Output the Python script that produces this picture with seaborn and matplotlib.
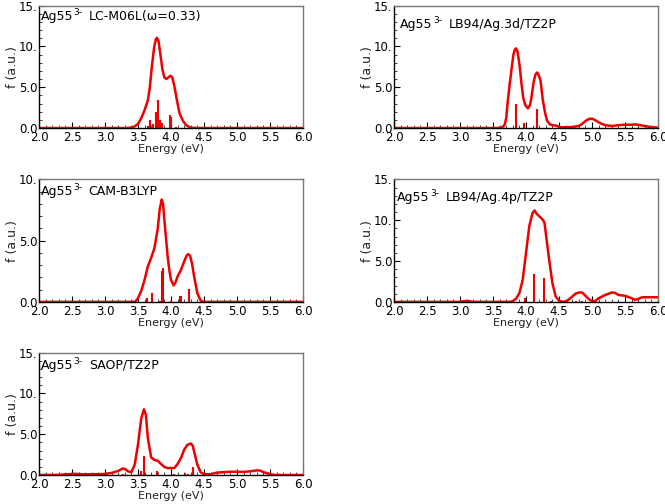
import numpy as np
import pandas as pd
import matplotlib
matplotlib.use("Agg")
import matplotlib.pyplot as plt
from matplotlib.ticker import MultipleLocator, FixedLocator, FixedFormatter
import seaborn as sns

# ---------------- data ----------------
label_main = "Ag55"
label_sup = "3-"
methods = [
    "LC-M06L(ω=0.33)",
    "LB94/Ag.3d/TZ2P",
    "CAM-B3LYP",
    "LB94/Ag.4p/TZ2P",
    "SAOP/TZ2P",
]

x1 = [2.0, 3.3, 3.40, 3.45, 3.5, 3.55, 3.6, 3.65, 3.68, 3.71, 3.745, 3.77, 3.785, 3.81, 3.84,
      3.87, 3.9, 3.93, 3.96, 3.99, 4.02, 4.05, 4.09, 4.13, 4.18, 4.23, 4.28, 4.33, 4.4, 6.0]
y1 = [0, 0, 0.05, 0.2, 0.5, 1.2, 2.2, 3.4, 5.0, 7.5, 9.9, 10.8, 11.05, 10.7, 9.0,
      7.2, 6.2, 6.0, 6.2, 6.4, 6.2, 5.2, 3.4, 1.8, 0.9, 0.35, 0.1, 0.02, 0, 0]
s1_pos = [3.65, 3.68, 3.73, 3.77, 3.79, 3.81, 3.83, 3.86, 3.98, 4.00, 4.07]
s1_h = [0.3, 1.0, 0.5, 2.0, 2.0, 3.4, 1.0, 0.6, 1.6, 1.4, 0.15]

x2 = [2.0, 3.55, 3.62, 3.66, 3.68, 3.70, 3.725, 3.755, 3.785, 3.81, 3.83, 3.85, 3.87, 3.89,
      3.905, 3.93, 3.96, 3.99, 4.03, 4.06, 4.08, 4.10, 4.12, 4.145, 4.17, 4.195, 4.22, 4.255,
      4.29, 4.32, 4.36, 4.40, 4.45, 4.5, 4.55, 4.6, 4.7, 4.8, 4.85, 4.9, 4.95, 5.0, 5.05, 5.1,
      5.15, 5.2, 5.3, 5.4, 5.5, 5.6, 5.65, 5.7, 5.8, 5.9, 6.0]
y2 = [0, 0, 0.05, 0.2, 0.5, 1.2, 3.4, 5.5, 7.5, 9.0, 9.6, 9.75, 9.4, 8.4,
      7.5, 5.5, 3.6, 2.8, 2.4, 2.8, 3.6, 4.8, 5.8, 6.6, 6.8, 6.4, 5.8, 3.4,
      1.8, 0.9, 0.45, 0.35, 0.3, 0.15, 0.08, 0.1, 0.12, 0.25, 0.5, 0.85, 1.1, 1.15, 0.95, 0.7,
      0.5, 0.35, 0.25, 0.35, 0.4, 0.4, 0.45, 0.38, 0.25, 0.1, 0.05]
s2_pos = [3.85, 3.97, 4.17]
s2_h = [2.9, 0.65, 2.3]

x3 = [2.0, 3.4, 3.46, 3.5, 3.55, 3.6, 3.65, 3.7, 3.75, 3.8, 3.83, 3.86, 3.88, 3.9, 3.925,
      3.95, 3.975, 4.0, 4.04, 4.07, 4.1, 4.15, 4.2, 4.24, 4.265, 4.29, 4.32, 4.35, 4.4, 4.45,
      4.5, 6.0]
y3 = [0, 0, 0.02, 0.3, 0.9, 1.8, 2.9, 3.6, 4.4, 6.0, 7.6, 8.36, 8.0, 6.7, 5.2,
      3.7, 2.6, 1.8, 1.35, 1.6, 2.08, 2.6, 3.3, 3.8, 3.9, 3.75, 3.1, 2.1, 0.7, 0.1,
      0, 0]
s3_pos = [3.63, 3.71, 3.83, 3.86, 3.88, 4.0, 4.13, 4.145, 4.275]
s3_h = [0.35, 0.7, 0.1, 2.55, 2.73, 0.05, 0.49, 0.49, 1.04]

x4 = [2.0, 3.0, 3.05, 3.1, 3.15, 3.2, 3.75, 3.8, 3.85, 3.9, 3.95, 4.0, 4.05, 4.1, 4.13, 4.16,
      4.2, 4.25, 4.28, 4.3, 4.35, 4.4, 4.45, 4.5, 4.55, 4.6, 4.65, 4.7, 4.75, 4.8, 4.85, 4.9,
      4.95, 5.0, 5.05, 5.1, 5.2, 5.3, 5.35, 5.4, 5.5, 5.55, 5.6, 5.65, 5.7, 5.75, 5.8, 6.0]
y4 = [0, 0, 0.08, 0.12, 0.08, 0, 0, 0.1, 0.4, 1.07, 2.7, 6.0, 9.3, 10.9, 11.2, 10.8,
      10.5, 10.1, 9.7, 8.4, 5.2, 2.3, 0.65, 0.15, 0.02, 0.05, 0.3, 0.65, 1.0, 1.15, 1.15, 0.75,
      0.35, 0.1, 0.1, 0.45, 0.85, 1.15, 1.1, 0.85, 0.75, 0.6, 0.45, 0.25, 0.35, 0.55, 0.57, 0.57]
s4_pos = [3.99, 4.125, 4.275, 4.38, 4.75, 4.85]
s4_h = [0.5, 3.4, 2.9, 0.15, 0.1, 0.1]

x5 = [2.0, 2.3, 2.4, 2.55, 2.7, 2.8, 3.0, 3.05, 3.1, 3.2, 3.27, 3.3, 3.35, 3.4, 3.45, 3.5,
      3.55, 3.59, 3.62, 3.65, 3.7, 3.75, 3.8, 3.85, 3.9, 3.95, 4.0, 4.05, 4.1, 4.15, 4.2,
      4.25, 4.3, 4.33, 4.35, 4.4, 4.45, 4.5, 4.6, 4.7, 4.8, 4.9, 5.0, 5.1, 5.2, 5.3, 5.35,
      5.4, 5.5, 5.55, 5.6, 6.0]
y5 = [0, 0.02, 0.08, 0.15, 0.08, 0.1, 0.12, 0.2, 0.25, 0.5, 0.8, 0.75, 0.45, 0.35, 1.25, 3.7,
      6.95, 8.05, 7.35, 4.5, 2.15, 1.83, 1.75, 1.35, 0.98, 0.85, 0.85, 0.85, 1.35, 2.07, 3.1,
      3.7, 3.86, 3.58, 2.9, 1.26, 0.33, 0.12, 0.1, 0.3, 0.35, 0.4, 0.4, 0.38, 0.45, 0.57, 0.55,
      0.35, 0.12, 0.03, 0, 0]
s5_pos = [3.27, 3.54, 3.59, 3.79, 4.04, 4.22, 4.26, 4.33, 4.9, 5.3]
s5_h = [0.1, 0.45, 2.36, 0.5, 0.15, 0.3, 0.15, 0.98, 0.05, 0.05]

x_ticks = [2.0, 2.5, 3.0, 3.5, 4.0, 4.5, 5.0, 5.5, 6.0]
x_ticklabels = ["2.0", "2.5", "3.0", "3.5", "4.0", "4.5", "5.0", "5.5", "6.0"]
y_ticks_15 = [0, 5, 10, 15]
y_ticklabels_15 = ["0.0", "5.0", "10.", "15."]
y_ticks_10 = [0, 5, 10]
y_ticklabels_10 = ["0.0", "5.0", "10."]
ymax = [15, 15, 10, 15, 15]

curves = [(x1, y1), (x2, y2), (x3, y3), (x4, y4), (x5, y5)]
sticks = [(s1_pos, s1_h), (s2_pos, s2_h), (s3_pos, s3_h), (s4_pos, s4_h), (s5_pos, s5_h)]

# ---------------- drawing ----------------
sns.set_style("white")
plt.rcParams["font.family"] = ["DejaVu Sans"]

fig = plt.figure(figsize=(6.65, 5.04), dpi=100)

W, H = 0.397, 0.243
lefts = [0.0586, 0.5925]
bottoms = [0.746, 0.401, 0.0575]
positions = [(lefts[0], bottoms[0]), (lefts[1], bottoms[0]),
             (lefts[0], bottoms[1]), (lefts[1], bottoms[1]),
             (lefts[0], bottoms[2])]
label_xy = [(0.006, 0.965), (0.023, 0.90), (0.006, 0.955), (0.012, 0.905), (0.006, 0.95)]

red = "#ee0000"
for i in range(5):
    ax = fig.add_axes([positions[i][0], positions[i][1], W, H])
    cx, cy = curves[i]
    df = pd.DataFrame({"E": cx, "f": cy})
    sns.lineplot(data=df, x="E", y="f", ax=ax, color=red, lw=1.8, sort=False,
                 estimator=None)
    sp, sh = sticks[i]
    ax.vlines(sp, 0, sh, colors=red, lw=1.5)

    ax.set_xlim(2.0, 6.0)
    ax.set_ylim(0, ymax[i])
    ax.xaxis.set_major_locator(FixedLocator(x_ticks))
    ax.xaxis.set_major_formatter(FixedFormatter(x_ticklabels))
    if ymax[i] == 10:
        ax.yaxis.set_major_locator(FixedLocator(y_ticks_10))
        ax.yaxis.set_major_formatter(FixedFormatter(y_ticklabels_10))
    else:
        ax.yaxis.set_major_locator(FixedLocator(y_ticks_15))
        ax.yaxis.set_major_formatter(FixedFormatter(y_ticklabels_15))
    ax.xaxis.set_minor_locator(MultipleLocator(0.1))
    ax.yaxis.set_minor_locator(MultipleLocator(1.0))
    ax.tick_params(axis="both", which="major", direction="in", length=4, width=0.8,
                   labelsize=8.5, pad=2, colors="black")
    ax.tick_params(axis="both", which="minor", direction="in", length=2, width=0.6)
    ax.tick_params(axis="y", which="major", pad=1)
    ax.tick_params(bottom=True, left=True, which="both")

    for s in ["left", "bottom"]:
        ax.spines[s].set_color("black")
        ax.spines[s].set_linewidth(1.0)
    for s in ["top", "right"]:
        ax.spines[s].set_color("#777777")
        ax.spines[s].set_linewidth(1.0)

    ax.set_xlabel("Energy (eV)", fontsize=8, color="#222222")
    ax.set_ylabel("f (a.u.)", fontsize=9, color="#222222")
    ax.xaxis.set_label_coords(0.5, -0.13)
    ax.yaxis.set_label_coords(-0.074, 0.5)

    # panel label: Ag55 with superscript "3-" then the method name
    lx, ly = label_xy[i]
    t1 = ax.text(lx, ly, label_main, transform=ax.transAxes,
                 ha="left", va="top", fontsize=9, color="black")
    t2 = ax.annotate(label_sup, xy=(1.0, 1.0), xycoords=t1,
                     xytext=(0.3, 1.5), textcoords="offset points",
                     ha="left", va="top", fontsize=6.5, color="black")
    ax.annotate(methods[i], xy=(1.0, ly), xycoords=(t2, ax.transAxes),
                xytext=(4.5, 0), textcoords="offset points",
                ha="left", va="top", fontsize=9, color="black")

fig.savefig("out.png", dpi=100, facecolor="white")
